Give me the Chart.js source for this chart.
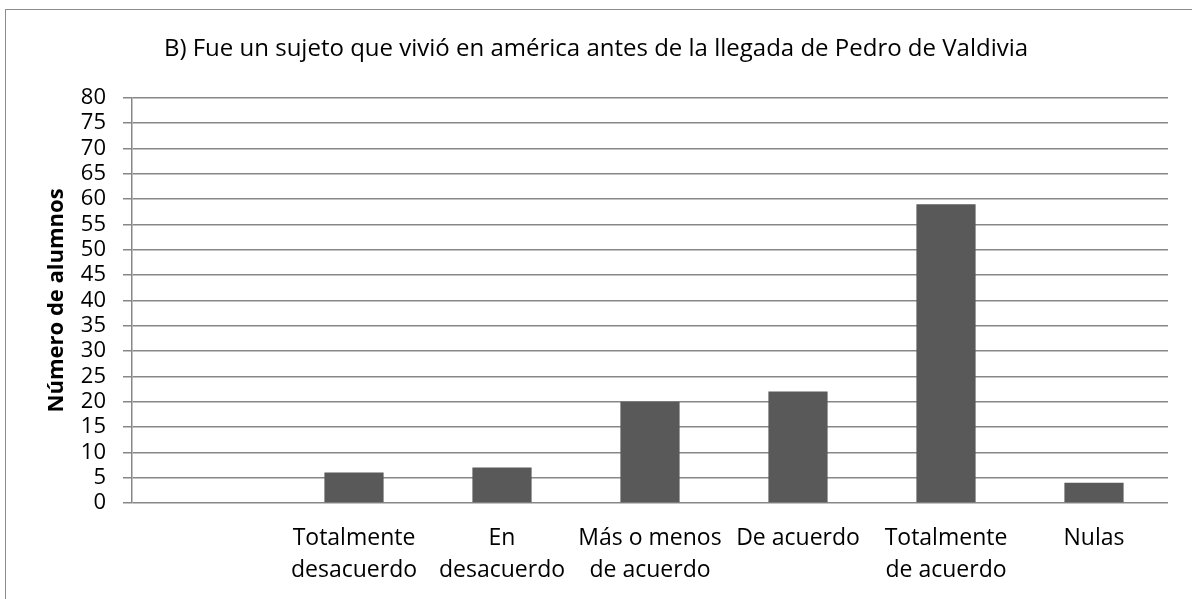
<!DOCTYPE html>
<html lang="es">
<head>
  <meta charset="UTF-8">
  <title>Número de alumnos</title>
  <script src="https://cdn.jsdelivr.net/npm/chart.js"></script>
  <style>
    html, body {
      margin: 0;
      padding: 0;
      background: #fff;
      overflow: hidden;
    }
    #frame {
      position: absolute;
      left: 5px;
      top: 9px;
      width: 1190px;
      height: 600px;
      border: 1px solid #8c8c8c;
    }
    #wrap {
      position: absolute;
      left: 0;
      top: 0;
      width: 1192px;
      height: 599px;
    }
  </style>
</head>
<body>
  <div id="frame"></div>
  <div id="wrap"><canvas id="chart" width="1192" height="599"></canvas></div>

  <script>
    const chartTitle = 'B) Fue un sujeto que vivió en américa antes de la llegada de Pedro de Valdivia';
    const categories = [
      '',
      ['Totalmente', 'desacuerdo'],
      ['En', 'desacuerdo'],
      ['Más o menos', 'de acuerdo'],
      'De acuerdo',
      ['Totalmente', 'de acuerdo'],
      'Nulas'
    ];
    const alumnos = [null, 6, 7, 20, 22, 59, 4];
    const yMin = 0, yMax = 80, yStep = 5;

    const gridColor = '#878787';
    const fontFamily = '"Open Sans", Lato, sans-serif';

    new Chart(document.getElementById('chart'), {
      type: 'bar',
      data: {
        labels: categories,
        datasets: [{
          data: alumnos,
          backgroundColor: '#595959',
          borderWidth: 0,
          barPercentage: 0.4,
          categoryPercentage: 1.0
        }]
      },
      options: {
        responsive: false,
        animation: false,
        layout: { padding: 0 },
        plugins: {
          legend: { display: false },
          tooltip: { enabled: false },
          title: {
            display: true,
            text: chartTitle,
            color: '#000',
            font: { family: fontFamily, size: 24, weight: 'normal', lineHeight: 1.2 },
            padding: { top: 35, bottom: 34 }
          }
        },
        scales: {
          x: {
            grid: { display: false },
            border: { display: false },
            ticks: {
              color: '#000',
              font: { family: fontFamily, size: 23, lineHeight: 1.4 },
              padding: 11,
              maxRotation: 0,
              autoSkip: false
            },
            afterFit: s => { s.height = 96; }
          },
          y: {
            min: yMin,
            max: yMax,
            ticks: {
              stepSize: yStep,
              autoSkip: false,
              color: '#000',
              font: { family: fontFamily, size: 22 },
              padding: 17
            },
            grid: {
              color: gridColor,
              lineWidth: 1.5,
              tickLength: 9
            },
            border: { display: true, color: gridColor, width: 1.5 },
            title: {
              display: true,
              text: 'Número de alumnos',
              color: '#000',
              font: { family: fontFamily, size: 22, weight: 'bold', lineHeight: 1.2 },
              padding: { top: 44, bottom: 0 }
            },
            afterFit: s => { s.width = 132; }
          },
          // empty right-hand margin so the plot ends where the reference does
          yRight: {
            position: 'right',
            display: true,
            ticks: { display: false },
            grid: { display: false },
            border: { display: false },
            afterFit: s => { s.width = 24; }
          }
        }
      }
    });
  </script>
</body>
</html>
